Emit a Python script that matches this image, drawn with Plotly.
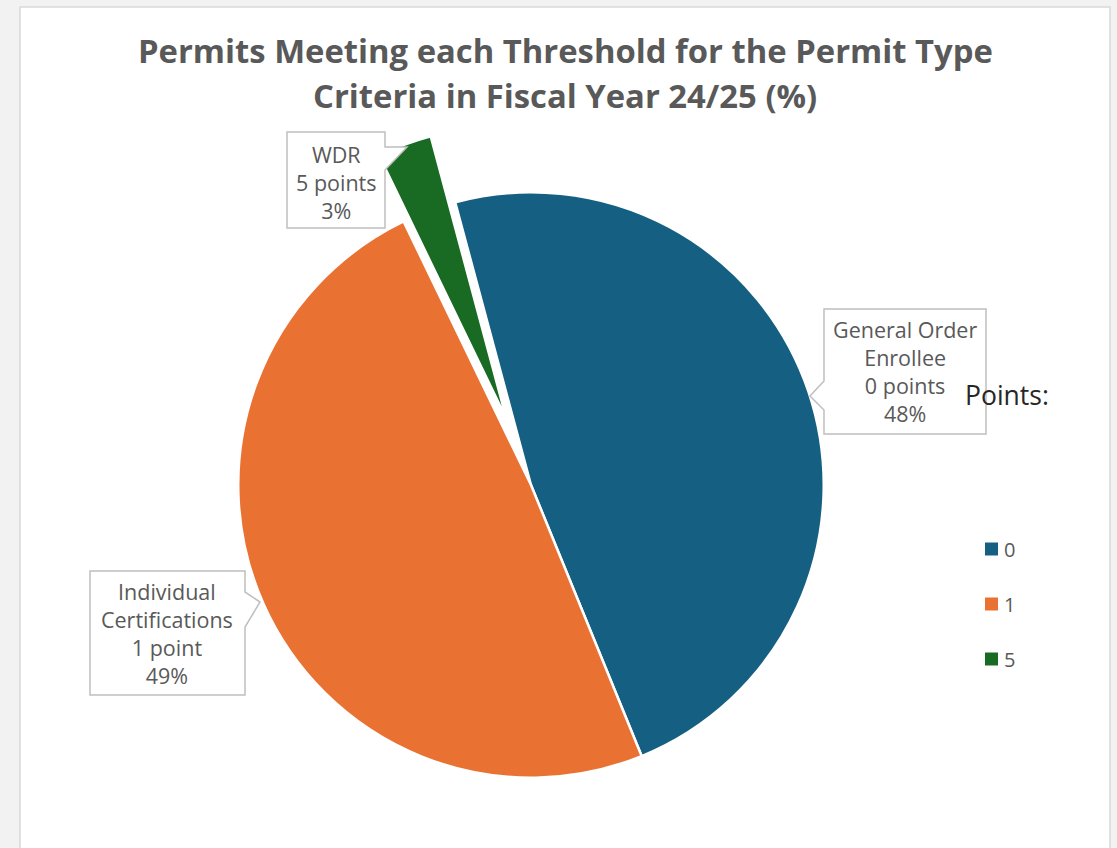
import plotly.graph_objects as go

W, H = 1117, 848

# ---- data ----
points = ["0", "1", "5"]
permit_types = ["General Order<br>Enrollee", "Individual<br>Certifications", "WDR"]
point_labels = ["0 points", "1 point", "5 points"]
shares = [48, 49, 3]
colors = ["#156082", "#E97132", "#196B24"]
pulls = [0, 0, 0.24]

title_lines = ["Permits Meeting each Threshold for the Permit Type",
               "Criteria in Fiscal Year 24/25 (%)"]


def px(x):
    return x / W


def py(y):
    return 1 - y / H


def path(pts):
    s = "M " + " L ".join(f"{px(x):.5f},{py(y):.5f}" for x, y in pts) + " Z"
    return s


fig = go.Figure()
fig.add_trace(go.Pie(
    labels=points, values=shares, sort=False, direction="clockwise", rotation=-15,
    marker=dict(colors=colors, line=dict(color="white", width=2.5)),
    pull=pulls, textinfo="none", showlegend=False,
    customdata=permit_types,
    hovertemplate="%{customdata}<br>%{percent}<extra></extra>",
    domain=dict(x=[px(166), px(896)], y=[py(848), py(122)]),
))

shapes = []
# chart area box
shapes.append(dict(type="rect", xref="paper", yref="paper", x0=px(20), x1=px(1110), y0=py(870), y1=py(7),
                   fillcolor="white", line=dict(color="#d9d9d9", width=1.5), layer="below"))

# callout boxes
callouts = [
    [(824, 309), (986, 309), (986, 434), (824, 434), (824, 410), (810, 396), (824, 381)],
    [(90, 571), (245, 571), (245, 592), (260, 602), (245, 627), (245, 695), (90, 695)],
    [(287, 132), (385, 132), (385, 147), (407, 147), (385, 170), (385, 228), (287, 228)],
]
for pts in callouts:
    shapes.append(dict(type="path", xref="paper", yref="paper", path=path(pts),
                       fillcolor="white", line=dict(color="#bfbfbf", width=1.5), layer="above"))

annotations = []
label_pos = [(905, 371), (167, 633), (336, 182)]
for i, (x, y) in enumerate(label_pos):
    annotations.append(dict(
        x=px(x), y=py(y), xref="paper", yref="paper", showarrow=False,
        xanchor="center", yanchor="middle", align="center",
        text=f"{permit_types[i]}<br>{point_labels[i]}<br>{shares[i]}%",
        font=dict(family="Open Sans", size=21.5, color="#595959"),
    ))

# title
for t, y in zip(title_lines, [50, 95]):
    annotations.append(dict(
        x=px(565), y=py(y), xref="paper", yref="paper", showarrow=False,
        xanchor="center", yanchor="middle", text=f"<b>{t}</b>",
        font=dict(family="Open Sans", size=32.8, color="#595959"),
    ))

# legend (manual)
annotations.append(dict(x=px(963), y=py(395), xref="paper", yref="paper", showarrow=False,
                        xanchor="left", yanchor="middle", text="Points:",
                        font=dict(family="Open Sans", size=26.5, color="#262626")))
for lab, col, yc in zip(points, colors, [549, 604, 659]):
    shapes.append(dict(type="rect", xref="paper", yref="paper",
                       x0=px(985), x1=px(998), y0=py(yc + 6.5), y1=py(yc - 6.5),
                       fillcolor=col, line=dict(width=0), layer="above"))
    annotations.append(dict(x=px(1002), y=py(yc), xref="paper", yref="paper", showarrow=False,
                            xanchor="left", yanchor="middle", text=lab,
                            font=dict(family="Open Sans", size=20, color="#595959")))

fig.update_layout(
    width=W, height=H, margin=dict(l=0, r=0, t=0, b=0),
    paper_bgcolor="#f2f2f2", plot_bgcolor="#f2f2f2",
    shapes=shapes, annotations=annotations, showlegend=False,
)

fig.write_html("out.html", config={"displayModeBar": False},
               post_script="document.body.style.margin='0';document.body.style.padding='0';"
                           "document.body.style.overflow='hidden';")
